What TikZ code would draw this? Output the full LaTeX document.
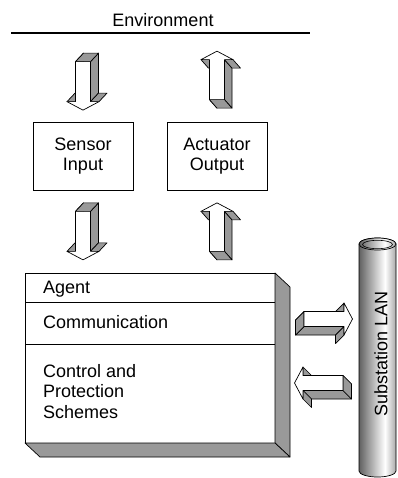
\documentclass[tikz,border=0pt]{standalone}
\usepackage{fontspec}
\setmainfont{Liberation Sans}
\usetikzlibrary{calc}

\pgfdeclarehorizontalshading{lanshade}{100bp}{color(0bp)=(black!90); color(25bp)=(black!62); color(60bp)=(white); color(80bp)=(black!45); color(100bp)=(black!88)}
\colorlet{facegray}{black!40}

\tikzset{
  face/.style={draw, fill=facegray, line width=0.7pt, line join=round},
  front/.style={draw, fill=white, line width=0.7pt, line join=round},
  box/.style={draw, line width=0.7pt, minimum width=100pt, minimum height=68pt, align=center},
  label/.style={anchor=base west, inner sep=0pt},
  % block arrow along +x, #1 = sideways part of the depth
  pics/fatarrow/.style={code={
    \path[face] (0,7.5) -- (40,7.5) -- ++(-8.5,#1) -- ++(-40,0) -- cycle;
    \path[face] (0,-7.5) -- (40,-7.5) -- ++(-8.5,#1) -- ++(-40,0) -- cycle;
    \path[face] (0,-7.5) -- (0,7.5) -- ++(-8.5,#1) -- ++(0,-15) -- cycle;
    \path[face] (40,7.5) -- (40,16) -- ++(-8.5,#1) -- ++(0,-8.5) -- cycle;
    \path[face] (40,-16) -- (40,-7.5) -- ++(-8.5,#1) -- ++(0,-8.5) -- cycle;
    \path[front] (0,-7.5) -- (0,7.5) -- (40,7.5) -- (40,16) -- (48.5,0) -- (40,-16) -- (40,-7.5) -- cycle;
  }}
}

\begin{document}
\begin{tikzpicture}[x=1pt, y=1pt, every node/.style={font=\fontsize{18}{20.5}\selectfont}]
  \useasboundingbox (0,0) rectangle (397,-478);

  % environment
  \node[anchor=base] (env) at (163,-26.5) {Environment};
  \draw[line width=1.6pt] (11,-33) -- (310,-33);

  % sensor and actuator
  \node[box] (sensor) at (83,-156) {Sensor\\Input};
  \node[box] (actuator) at (217,-156) {Actuator\\Output};

  \pic[rotate=-90] at ($(sensor.north)+(0,60)$) {fatarrow=8};
  \pic[rotate=-90] at ($(sensor.south)+(0,-21)$) {fatarrow=8};
  \pic[rotate=90] at ($(actuator.north)+(0,22)$) {fatarrow=-7.5};
  \pic[rotate=90] at ($(actuator.south)+(0,-61)$) {fatarrow=-7.5};

  % agent block
  \node[front, outer sep=0pt, minimum width=250pt, minimum height=170pt] (agent) at (150,-358) {};
  \path[face] (agent.north east) -- ++(15,-14) -- ++(0,-170) -- (agent.south east) -- cycle;
  \path[face] (agent.south west) -- (agent.south east) -- ++(15,-14) -- ++(-250,0) -- cycle;
  \draw[line width=0.7pt] ($(agent.north west)+(0,-29)$) -- ($(agent.north east)+(0,-29)$);
  \draw[line width=0.7pt] ($(agent.north west)+(0,-71)$) -- ($(agent.north east)+(0,-71)$);
  \node[label] (agentlbl) at (43,-293) {Agent};
  \node[label] (comm) at (43,-328) {Communication};
  \node[label, align=left] (ctrl) at (43,-418) {Control and\\Protection\\Schemes};

  % substation LAN
  \path[shading=lanshade, draw, line width=0.7pt] (359,-244) -- (359,-471)
    arc[start angle=180, end angle=360, x radius=18.5, y radius=6] -- (396,-244)
    arc[start angle=0, end angle=180, x radius=18.5, y radius=6] -- cycle;
  \path[shading=lanshade, draw, line width=0.7pt] (377.5,-244) ellipse [x radius=18.5, y radius=6];
  \draw[line width=0.6pt] (377.5,-244.5) ellipse [x radius=15, y radius=4.2];
  \node[rotate=90] (lan) at (381,-354) {Substation LAN};

  \pic at (304,-319) {fatarrow=-8.5};
  \pic[rotate=180] at (343,-383) {fatarrow=8.5};
\end{tikzpicture}
\end{document}
